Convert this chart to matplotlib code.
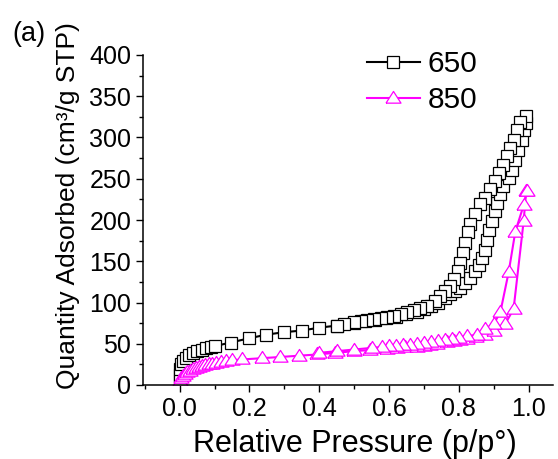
import matplotlib
matplotlib.use("Agg")
import matplotlib.pyplot as plt
from matplotlib.ticker import MultipleLocator

plt.rcParams["font.family"] = ["Liberation Sans", "DejaVu Sans"]

# 650 sample: adsorption branch (low -> high p/p0)
ads650_x = [0.0005, 0.001, 0.002, 0.005, 0.01, 0.018, 0.028, 0.039, 0.051, 0.063,
            0.076, 0.09, 0.10, 0.146, 0.198, 0.248, 0.299, 0.35, 0.40, 0.45,
            0.50, 0.53, 0.56, 0.59, 0.62, 0.65, 0.68, 0.70, 0.72, 0.74,
            0.761, 0.776, 0.79, 0.804, 0.819, 0.833, 0.847, 0.857, 0.866, 0.876,
            0.881, 0.886, 0.895, 0.905, 0.909, 0.919, 0.928, 0.943, 0.952, 0.962,
            0.971, 0.981, 0.986, 0.993]
ads650_y = [5, 12, 20, 25, 29, 33, 36, 39, 41, 43,
            44.5, 46, 47, 51.5, 56.5, 61, 64, 66, 69.5, 72,
            75, 77, 79, 81, 83, 86, 89, 92, 96, 100,
            106, 110, 114, 118, 124, 130, 138, 146, 154, 164,
            176, 188, 199, 211, 221, 231, 241, 251, 261, 273,
            285, 297, 309, 318]
# 650 sample: desorption branch (high -> low p/p0)
des650_x = [0.993, 0.976, 0.967, 0.957, 0.948, 0.938, 0.928, 0.914, 0.905, 0.890,
            0.876, 0.862, 0.847, 0.833, 0.825, 0.819, 0.812, 0.804, 0.797, 0.785,
            0.776, 0.761, 0.747, 0.733, 0.709, 0.69, 0.671, 0.652, 0.633, 0.614,
            0.595, 0.576, 0.557, 0.538, 0.519, 0.50, 0.47, 0.45]
des650_y = [326, 319, 309, 297, 287, 277, 267, 257, 247, 237,
            227, 219, 207, 195, 185, 172, 160, 148, 138, 128,
            120, 114, 108, 102, 96, 93, 90.5, 88, 86, 84,
            82.5, 81, 80, 79, 77.5, 76, 73.5, 72]

# 850 sample: adsorption branch
ads850_x = [0.0005, 0.002, 0.005, 0.01, 0.016, 0.022, 0.03, 0.038, 0.046, 0.055,
            0.064, 0.073, 0.083, 0.093, 0.105, 0.118, 0.132, 0.15, 0.18, 0.236,
            0.289, 0.342, 0.394, 0.445, 0.50, 0.546, 0.594, 0.623, 0.647, 0.68,
            0.699, 0.718, 0.738, 0.766, 0.785, 0.804, 0.823, 0.85, 0.875, 0.90,
            0.933, 0.957, 0.986, 0.993]
ads850_y = [2, 5, 8, 11, 13.5, 15.5, 17.5, 19, 20.5, 22,
            23, 24, 25, 26, 27, 28, 29, 30, 31, 32.5,
            34, 35.5, 37, 39, 41, 42.5, 43.5, 44.5, 45.5, 46.5,
            47.5, 48.5, 50, 52, 53, 54.5, 56, 58, 61, 66,
            74, 92, 199, 235]
# 850 sample: desorption branch
des850_x = [0.995, 0.986, 0.962, 0.943, 0.919, 0.90, 0.876, 0.852, 0.823, 0.80,
            0.78, 0.76, 0.74, 0.72, 0.70, 0.68, 0.66, 0.64, 0.62, 0.60,
            0.58, 0.55, 0.50, 0.45, 0.40]
des850_y = [235, 218, 186, 137, 88, 74, 68, 61, 59, 57.5,
            56, 55, 53.5, 52, 51, 50, 49, 48, 47.5, 47,
            46, 45, 43, 41, 39]

# wide open triangle, like Origin's
tri = [(-1, -0.62), (1, -0.62), (0, 0.94), (-1, -0.62)]

fig = plt.figure(figsize=(5.58, 4.59), dpi=100)
ax = fig.add_axes([143 / 558, 1 - 385 / 459, 410 / 558, 330 / 459])

sq = dict(color="black", lw=1.5, marker="s", ms=8, mfc="white", mec="black", mew=0.9)
ax.plot(ads650_x, ads650_y, label="650", **sq)
ax.plot(des650_x, des650_y, **sq)

tr = dict(color="#ff00ff", lw=1.5, marker=tri, ms=10.8, mfc="white", mec="#ff00ff", mew=0.9)
ax.plot(ads850_x, ads850_y, label="850", **tr)
ax.plot(des850_x, des850_y, **tr)

ax.set_xlim(-0.105, 1.07)
ax.set_ylim(0, 400)
ax.spines["top"].set_visible(False)
ax.spines["right"].set_visible(False)
for s in ("left", "bottom"):
    ax.spines[s].set_linewidth(1.1)
ax.xaxis.set_major_locator(MultipleLocator(0.2))
ax.xaxis.set_minor_locator(MultipleLocator(0.1))
ax.yaxis.set_major_locator(MultipleLocator(50))
ax.yaxis.set_minor_locator(MultipleLocator(25))
ax.tick_params(which="major", direction="out", length=5, width=1, labelsize=18, pad=3.5)
ax.tick_params(which="minor", direction="out", length=3, width=1)
ax.set_xticks([0.0, 0.2, 0.4, 0.6, 0.8, 1.0])
ax.set_xticklabels(["0.0", "0.2", "0.4", "0.6", "0.8", "1.0"])

fig.text(354.6 / 558, 1 - 452 / 459, "Relative Pressure (p/p°)", ha="center",
         va="baseline", fontsize=22)
fig.text(68 / 558, 1 - 206 / 459, "Quantity Adsorbed (cm³/g STP)", rotation=90,
         ha="center", va="center", fontsize=19)
fig.text(12 / 558, 1 - 41 / 459, "(a)", ha="left", va="baseline", fontsize=19.5)

ax.legend(loc="upper left", bbox_to_anchor=(367 / 558, 1 - 50 / 459),
          bbox_transform=fig.transFigure, frameon=False, fontsize=21.5,
          handlelength=1.77, handletextpad=0.27, labelspacing=0.27,
          borderpad=0, borderaxespad=0)

fig.savefig("out.png", dpi=100)
